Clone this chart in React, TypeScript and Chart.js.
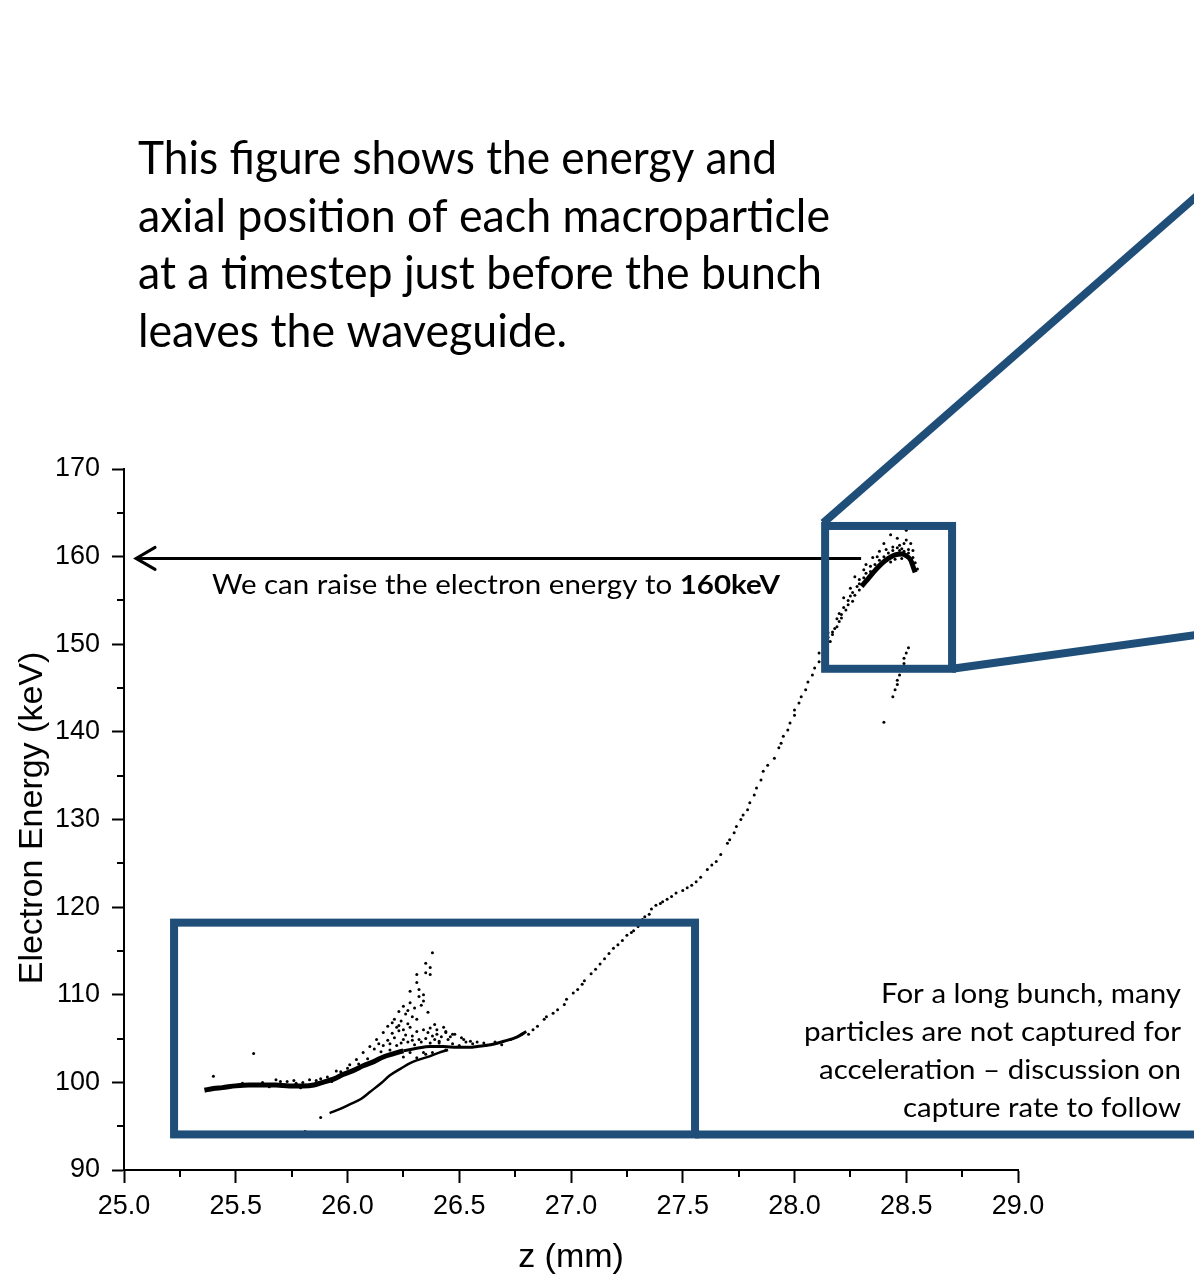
import React, { useEffect, useRef } from "react";
import { Chart, registerables } from "chart.js";

Chart.register(...registerables);

// ---------------- axes ----------------
const zMin = 25.0;
const zMax = 29.0;
const eMin = 90;
const eMax = 170;
const zStep = 0.5;
const eStep = 10;
const zMinorTicks = [25.25, 25.75, 26.25, 26.75, 27.25, 27.75, 28.25, 28.75];
const eMinorTicks = [95, 105, 115, 125, 135, 145, 155, 165];
const xTitle = "z (mm)";
const yTitle = "Electron Energy (keV)";

// ---------------- texts ----------------
const titleLines = [
  "This figure shows the energy and",
  "axial position of each macroparticle",
  "at a timestep just before the bunch",
  "leaves the waveguide.",
];
const calloutPlain = "We can raise the electron energy to ";
const calloutBold = "160keV";
const noteLines = [
  "For a long bunch, many",
  "particles are not captured for",
  "acceleration \u2013 discussion on",
  "capture rate to follow",
];

// ---------------- data: [z (mm), energy (keV)] ----------------
// dense core of the slow (not yet captured) bunch part
const lowerCoreThick: [number, number][] = [
  [25.36, 99.1], [25.40, 99.3], [25.44, 99.4], [25.50, 99.6], [25.56, 99.7],
  [25.62, 99.7], [25.68, 99.7], [25.74, 99.6], [25.80, 99.6], [25.85, 99.7],
  [25.89, 100.0], [25.94, 100.4], [25.98, 100.9], [26.03, 101.4], [26.07, 101.9],
  [26.12, 102.4], [26.16, 102.9], [26.21, 103.3], [26.25, 103.6],
];
const lowerCoreThin: [number, number][] = [
  [26.25, 103.6], [26.31, 103.9], [26.37, 104.1], [26.43, 104.1], [26.49, 104.0],
  [26.55, 104.0], [26.58, 104.1], [26.64, 104.3], [26.70, 104.7], [26.76, 105.2],
  [26.80, 105.8],
];
// lower branch of decelerated particles
const lowerBranch: [number, number][] = [
  [25.92, 96.5], [25.97, 97.0], [26.01, 97.5], [26.06, 98.1], [26.10, 98.9],
  [26.15, 99.9], [26.19, 100.8], [26.24, 101.6], [26.28, 102.2], [26.32, 102.6],
  [26.37, 103.0], [26.41, 103.4], [26.45, 103.7],
];
// dense top of accelerated bunch
const topArc: [number, number][] = [
  [28.30, 156.6], [28.33, 157.5], [28.36, 158.4], [28.39, 159.2], [28.42, 159.8],
  [28.45, 160.2], [28.48, 160.3], [28.50, 160.1], [28.52, 159.6], [28.53, 158.9],
  [28.54, 158.2],
];
// individual macroparticles: plume and scatter around low-energy region
const plumePoints: [number, number][] = [
  [26.38, 114.8], [26.35, 113.6], [26.37, 113.1], [26.35, 112.5], [26.37, 112.3],
  [26.31, 112.3], [26.31, 111.4], [26.28, 110.4], [26.32, 110.6], [26.34, 110.0],
  [26.32, 109.8], [26.33, 108.8], [26.28, 109.1], [26.25, 108.7], [26.23, 108.1],
  [26.27, 108.2], [26.29, 107.5], [26.21, 107.2], [26.24, 107.0], [26.31, 107.2],
  [26.18, 106.4], [26.22, 106.3], [26.28, 106.3], [26.25, 106.0], [26.34, 106.0],
  [26.37, 106.2], [26.40, 106.0], [26.44, 105.8], [26.47, 105.5], [26.16, 105.7],
  [26.13, 104.9], [26.21, 105.1], [26.25, 104.9], [26.29, 105.3], [26.32, 104.9],
  [26.38, 105.3], [26.41, 104.7], [26.10, 104.1], [26.16, 104.2], [26.19, 103.7],
  [26.28, 103.4], [26.34, 103.4], [26.25, 102.9], [26.31, 102.8], [26.50, 104.2],
  [26.52, 104.9], [26.44, 105.7], [26.04, 102.6], [26.07, 103.4], [26.01, 102.0],
  [25.95, 101.3], [26.48, 105.5], [26.51, 105.1], [26.47, 104.4], [26.41, 104.5],
  [26.44, 103.7], [26.38, 103.4], [26.35, 103.2], [26.56, 104.4], [26.61, 104.5],
  [26.12, 103.8], [26.14, 104.4], [26.18, 104.8], [26.20, 105.6], [26.23, 105.9],
  [26.26, 105.4], [26.27, 104.6], [26.30, 104.3], [26.33, 104.6], [26.35, 105.0],
  [26.36, 105.7], [26.39, 104.9], [26.42, 105.2], [26.45, 104.9], [26.46, 105.2],
  [26.53, 104.6], [26.55, 104.7], [26.58, 104.6], [26.20, 106.8], [26.26, 107.8],
  [26.30, 108.5], [26.34, 109.3], [26.27, 106.7], [26.23, 106.5], [26.36, 108.0],
  [26.39, 106.6], [26.43, 106.3], [26.15, 103.5], [26.22, 104.2], [26.24, 104.5],
  [26.29, 104.8], [26.37, 104.5], [26.40, 105.5], [26.31, 105.8], [26.19, 104.4],
];
const bandScatter: [number, number][] = [
  [25.40, 100.7], [25.58, 103.3], [25.88, 96.0], [25.81, 94.4],
  [25.68, 100.3], [25.73, 100.1], [25.83, 100.3], [25.77, 99.9], [25.88, 100.4],
  [25.62, 100.0], [25.70, 100.1], [25.76, 100.2], [25.80, 100.0], [25.86, 100.2],
  [25.91, 100.6], [25.97, 101.2], [26.00, 101.6], [26.05, 102.1], [26.09, 102.7],
  [26.62, 104.2], [26.66, 104.6], [26.69, 104.3], [26.73, 104.9], [26.78, 105.5],
  [26.81, 105.5], [25.53, 99.9], [25.65, 99.5], [25.79, 99.4], [25.93, 100.1],
];
// accelerated particles along the rising curve
const risingPoints: [number, number][] = [
  [26.83, 106.0], [26.85, 106.4], [26.88, 107.2], [26.89, 107.5], [26.92, 107.9],
  [26.94, 108.3], [26.97, 108.9], [26.98, 109.5], [27.01, 110.2], [27.03, 110.6],
  [27.05, 111.2], [27.06, 111.6], [27.09, 112.4], [27.11, 112.9], [27.13, 113.5],
  [27.15, 114.1], [27.17, 114.7], [27.19, 115.3], [27.21, 115.7], [27.23, 116.2],
  [27.25, 116.8], [27.27, 117.1], [27.28, 117.3], [27.30, 117.8], [27.32, 118.6],
  [27.33, 118.9], [27.35, 119.2], [27.36, 119.8], [27.38, 120.2], [27.40, 120.4],
  [27.41, 120.6], [27.43, 120.9], [27.45, 121.2], [27.47, 121.6], [27.50, 121.9],
  [27.52, 122.2], [27.54, 122.5], [27.56, 122.9], [27.58, 123.4], [27.61, 124.3],
  [27.63, 124.8], [27.65, 125.2], [27.67, 126.0], [27.70, 127.3], [27.71, 127.7],
  [27.73, 128.5], [27.74, 129.2], [27.76, 130.0], [27.77, 130.5], [27.79, 131.1],
  [27.80, 131.9], [27.82, 132.8], [27.83, 133.6], [27.85, 134.5], [27.86, 135.5],
  [27.88, 136.2], [27.91, 137.0], [27.93, 138.2], [27.94, 138.7], [27.95, 139.5],
  [27.97, 140.2], [27.98, 141.0], [28.00, 141.9], [28.00, 142.5], [28.02, 143.3],
  [28.03, 144.0], [28.05, 144.8], [28.06, 145.7], [28.08, 146.5], [28.09, 147.3],
  [28.11, 148.0], [28.11, 149.0], [28.14, 149.7], [28.16, 150.3], [28.17, 151.1],
  [28.17, 151.4], [28.19, 152.0], [28.20, 152.6], [28.21, 153.4], [28.23, 153.9],
  [28.24, 154.5], [28.26, 154.9], [28.27, 155.6], [28.29, 156.2],
];
// scatter around the peak energy
const peakScatter: [number, number][] = [
  [28.27, 157.7], [28.35, 159.9], [28.40, 161.5], [28.43, 162.5], [28.46, 162.1],
  [28.47, 161.3], [28.50, 163.0], [28.49, 161.5], [28.52, 161.5], [28.51, 160.8],
  [28.38, 160.6], [28.41, 160.8], [28.37, 160.0], [28.32, 159.1], [28.31, 158.5],
  [28.25, 156.4], [28.22, 155.3], [28.20, 153.5], [28.15, 151.3], [28.50, 161.9],
  [28.44, 161.1], [28.29, 157.4], [28.34, 158.9], [28.46, 161.0], [28.48, 160.9],
  [28.53, 160.7], [28.13, 149.3], [28.15, 150.8], [28.18, 151.8], [28.19, 152.9],
  [28.21, 153.0], [28.22, 154.2], [28.24, 155.0], [28.25, 155.5], [28.26, 155.9],
  [28.28, 156.6], [28.29, 156.9], [28.31, 157.6], [28.32, 158.1], [28.34, 158.3],
  [28.36, 159.1], [28.38, 159.6], [28.40, 160.0], [28.42, 160.4], [28.44, 160.7],
  [28.47, 160.7], [28.49, 160.6], [28.51, 160.4], [28.53, 159.9], [28.54, 159.3],
  [28.55, 158.6], [28.45, 159.7], [28.48, 159.8], [28.43, 159.4],
];
// second (lagging) branch near the exit
const exitBranch: [number, number][] = [
  [28.51, 149.6], [28.50, 149.0], [28.49, 148.4], [28.49, 147.8], [28.48, 147.1],
  [28.47, 146.5], [28.46, 145.9], [28.46, 145.4], [28.45, 144.8], [28.44, 144.0],
  [28.40, 141.1],
];

// ---------------- annotation geometry (data units) ----------------
const boxLow = { z0: 25.224, z1: 27.555, e0: 94.06, e1: 118.23 };
const boxHigh = { z0: 28.137, z1: 28.705, e0: 147.2, e1: 163.5 };
const arrowLine = { zFrom: 28.298, zTo: 25.054, e: 159.8 };

const BLUE = "#1F4E79";
const TEXT_FONT = "Lato, 'Open Sans', sans-serif";
const AXIS_FONT = "'Liberation Sans', Arial, sans-serif";

const toXY = (arr: [number, number][]) => arr.map(([x, y]) => ({ x, y }));

function fitText(
  ctx: CanvasRenderingContext2D,
  parts: { text: string; font: string }[],
  x: number,
  y: number,
  width: number,
  align: "left" | "right"
) {
  ctx.save();
  let total = 0;
  const widths = parts.map((p) => {
    ctx.font = p.font;
    const w = ctx.measureText(p.text).width;
    total += w;
    return w;
  });
  const s = width / total;
  const left = align === "left" ? x : x - width;
  ctx.translate(left, y);
  ctx.scale(s, 1);
  ctx.textAlign = "left";
  ctx.textBaseline = "alphabetic";
  ctx.fillStyle = "#000";
  let cx = 0;
  parts.forEach((p, i) => {
    ctx.font = p.font;
    ctx.fillText(p.text, cx, 0);
    cx += widths[i];
  });
  ctx.restore();
}

const overlayPlugin = {
  id: "overlay",
  beforeDraw(chart: any) {
    const ctx = chart.ctx as CanvasRenderingContext2D;
    ctx.save();
    ctx.fillStyle = "#ffffff";
    ctx.fillRect(0, 0, chart.width, chart.height);
    ctx.restore();
  },
  afterDraw(chart: any) {
    const ctx = chart.ctx as CanvasRenderingContext2D;
    const xs = chart.scales.x;
    const ys = chart.scales.y;
    const area = chart.chartArea;
    const W = chart.width;

    // minor ticks
    ctx.save();
    ctx.strokeStyle = "#000";
    ctx.lineWidth = 2;
    zMinorTicks.forEach((v) => {
      const px = Math.round(xs.getPixelForValue(v));
      ctx.beginPath();
      ctx.moveTo(px, area.bottom);
      ctx.lineTo(px, area.bottom + 7);
      ctx.stroke();
    });
    eMinorTicks.forEach((v) => {
      const py = Math.round(ys.getPixelForValue(v));
      ctx.beginPath();
      ctx.moveTo(area.left, py);
      ctx.lineTo(area.left - 7, py);
      ctx.stroke();
    });
    ctx.restore();

    // axis titles
    ctx.save();
    ctx.fillStyle = "#000";
    ctx.font = `34px ${AXIS_FONT}`;
    ctx.textAlign = "center";
    ctx.textBaseline = "alphabetic";
    ctx.fillText(xTitle, (area.left + area.right) / 2, 1267);
    ctx.translate(42, 818);
    ctx.rotate(-Math.PI / 2);
    ctx.fillText(yTitle, 0, 0);
    ctx.restore();

    // title
    const titleWidths = [639, 692, 684, 429];
    const titleBase = [174, 231.5, 289, 346.5];
    titleLines.forEach((t, i) => {
      fitText(ctx, [{ text: t, font: `46px ${TEXT_FONT}` }], 138, titleBase[i], titleWidths[i], "left");
    });

    // arrow with callout
    const ay = ys.getPixelForValue(arrowLine.e);
    const ax0 = xs.getPixelForValue(arrowLine.zFrom);
    const ax1 = xs.getPixelForValue(arrowLine.zTo);
    ctx.save();
    ctx.strokeStyle = "#000";
    ctx.lineWidth = 3;
    ctx.beginPath();
    ctx.moveTo(ax0, ay);
    ctx.lineTo(ax1 + 1, ay);
    ctx.stroke();
    ctx.lineCap = "round";
    ctx.lineJoin = "miter";
    ctx.beginPath();
    ctx.moveTo(ax1 + 19, ay - 11);
    ctx.lineTo(ax1, ay);
    ctx.lineTo(ax1 + 19, ay + 11);
    ctx.stroke();
    ctx.restore();
    fitText(
      ctx,
      [
        { text: calloutPlain, font: `27px ${TEXT_FONT}` },
        { text: calloutBold, font: `bold 27px ${TEXT_FONT}` },
      ],
      212,
      594,
      568,
      "left"
    );

    // notes on the right
    const noteWidths = [300, 377, 362, 278];
    const noteBase = [1003, 1041, 1079, 1117];
    noteLines.forEach((t, i) => {
      fitText(ctx, [{ text: t, font: `27px ${TEXT_FONT}` }], 1181, noteBase[i], noteWidths[i], "right");
    });

    // blue zoom boxes
    ctx.save();
    ctx.strokeStyle = BLUE;
    ctx.lineWidth = 8;
    ctx.lineJoin = "miter";
    const bl = {
      l: xs.getPixelForValue(boxLow.z0),
      r: xs.getPixelForValue(boxLow.z1),
      t: ys.getPixelForValue(boxLow.e1),
      b: ys.getPixelForValue(boxLow.e0),
    };
    ctx.strokeRect(bl.l, bl.t, bl.r - bl.l, bl.b - bl.t);
    ctx.beginPath();
    ctx.moveTo(bl.r, bl.b);
    ctx.lineTo(W, bl.b);
    ctx.stroke();

    const bh = {
      l: xs.getPixelForValue(boxHigh.z0),
      r: xs.getPixelForValue(boxHigh.z1),
      t: ys.getPixelForValue(boxHigh.e1),
      b: ys.getPixelForValue(boxHigh.e0),
    };
    ctx.strokeRect(bh.l, bh.t, bh.r - bh.l, bh.b - bh.t);
    ctx.beginPath();
    ctx.moveTo(bh.l - 2, bh.t - 3);
    ctx.lineTo(W + 4, 195);
    ctx.stroke();
    ctx.beginPath();
    ctx.moveTo(bh.r, bh.b);
    ctx.lineTo(W + 2, 635);
    ctx.stroke();
    ctx.restore();
  },
};

export default function App() {
  const ref = useRef<HTMLCanvasElement | null>(null);

  useEffect(() => {
    if (!ref.current) return;
    const lineDs = (data: [number, number][], width: number) => ({
      data: toXY(data),
      showLine: true,
      borderColor: "#000",
      borderWidth: width,
      pointRadius: 0,
      cubicInterpolationMode: "monotone" as const,
      fill: false,
    });
    const dotDs = (data: [number, number][]) => ({
      data: toXY(data),
      showLine: false,
      pointRadius: 1.5,
      pointBorderWidth: 0,
      pointBackgroundColor: "#000",
      backgroundColor: "#000",
    });

    const chart = new Chart(ref.current, {
      type: "scatter",
      data: {
        datasets: [
          lineDs(lowerCoreThick, 5),
          lineDs(lowerCoreThin, 3),
          lineDs(lowerBranch, 2.5),
          lineDs(topArc, 5),
          dotDs(plumePoints),
          dotDs(bandScatter),
          dotDs(risingPoints),
          dotDs(peakScatter),
          dotDs(exitBranch),
        ] as any,
      },
      options: {
        animation: false,
        responsive: false,
        devicePixelRatio: 1,
        layout: { padding: { top: 469, right: 176, left: 0, bottom: 0 } },
        plugins: {
          legend: { display: false },
          tooltip: { enabled: false },
        },
        events: [],
        scales: {
          x: {
            type: "linear",
            min: zMin,
            max: zMax,
            afterFit: (s: any) => {
              s.height = 105;
            },
            ticks: {
              stepSize: zStep,
              padding: 7,
              color: "#000",
              font: { family: AXIS_FONT, size: 27 },
              maxRotation: 0,
              autoSkip: false,
              callback: (v: any) => Number(v).toFixed(1),
            },
            grid: {
              display: true,
              drawOnChartArea: false,
              drawTicks: true,
              tickLength: 13,
              tickWidth: 2,
              tickColor: "#000",
            },
            border: { display: true, color: "#000", width: 2 },
          },
          y: {
            type: "linear",
            min: eMin,
            max: eMax,
            afterFit: (s: any) => {
              s.width = 124;
            },
            ticks: {
              stepSize: eStep,
              padding: 12,
              color: "#000",
              font: { family: AXIS_FONT, size: 27 },
              autoSkip: false,
              callback: (v: any) => String(v),
            },
            grid: {
              display: true,
              drawOnChartArea: false,
              drawTicks: true,
              tickLength: 12,
              tickWidth: 2,
              tickColor: "#000",
            },
            border: { display: true, color: "#000", width: 2 },
          },
        },
      } as any,
      plugins: [overlayPlugin],
    });
    return () => chart.destroy();
  }, []);

  return (
    <div style={{ position: "absolute", left: 0, top: 0, width: 1194, height: 1275, background: "#fff" }}>
      <canvas ref={ref} width={1194} height={1275} style={{ width: 1194, height: 1275, display: "block" }} />
    </div>
  );
}
